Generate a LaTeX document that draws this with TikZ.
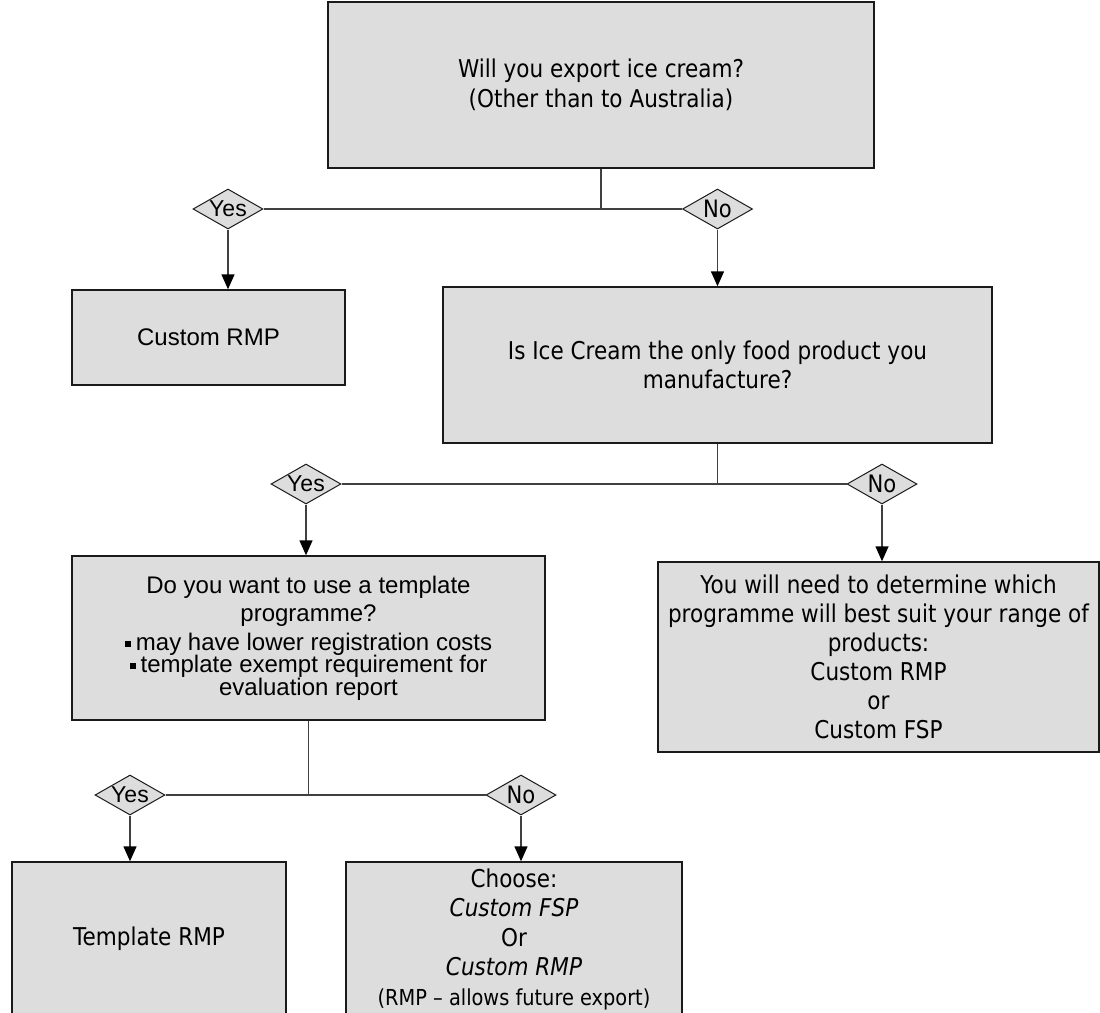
\documentclass[tikz,border=0pt]{standalone}
\usepackage{fontspec}
\setmainfont{Liberation Sans}
\newfontfamily\tah[FakeStretch=0.88]{DejaVu Sans}
\usetikzlibrary{shapes.geometric,arrows.meta}
\definecolor{boxfill}{HTML}{DDDDDD}
\definecolor{edgeclr}{HTML}{1A1A1A}
\definecolor{lineclr}{HTML}{404040}
\newcommand\bul{\rule[3pt]{6pt}{6pt}\hspace{5pt}}
\begin{document}
\begin{tikzpicture}[x=1pt,y=-1pt,
  box/.style={draw=edgeclr, line width=1.4pt, fill=boxfill, inner sep=0pt, align=center},
  tahtext/.style={font=\tah\fontsize{24.5}{29.5}\selectfont},
  aritext/.style={font=\fontsize{24}{28}\selectfont},
  dec/.style={diamond, draw=edgeclr, line width=1pt, fill=boxfill, inner sep=0pt,
              minimum width=70pt, minimum height=40pt, aspect=1.75},
  yestext/.style={font=\fontsize{23}{24}\selectfont},
  notext/.style={font=\tah\fontsize{24}{24}\selectfont},
  conn/.style={draw=lineclr, line width=1.4pt},
  arr/.style={conn, -{Triangle[length=15pt,width=13pt,color=black]}},
]
\useasboundingbox (0,0) rectangle (1100,1012);
\clip (0,0) rectangle (1100,1012);

% boxes
\node[box, tahtext, minimum width=546pt, minimum height=166pt] (q1) at (601,85)
  {Will you export ice cream?\\(Other than to Australia)};
\node[box, aritext, minimum width=273pt, minimum height=95pt] (crmp) at (208.5,337.5)
  {Custom RMP};
\node[box, tahtext, minimum width=549pt, minimum height=156pt] (q2) at (717.5,365)
  {Is Ice Cream the only food product you\\manufacture?};
\node[box, aritext, minimum width=473pt, minimum height=164pt] (q3) at (308.5,638)
  {Do you want to use a template\\programme?\\[1pt]\bul may have lower registration costs\\[-6pt]\bul template exempt requirement for\\[-5pt]evaluation report};
\node[box, tahtext, font=\tah\fontsize{24.5}{29}\selectfont, minimum width=441pt, minimum height=190pt] (q4) at (878.5,657)
  {You will need to determine which\\programme will best suit your range of\\products:\\Custom RMP\\or\\Custom FSP};
\node[box, tahtext, minimum width=274pt, minimum height=154pt] (tmpl) at (149,939)
  {Template RMP};
\node[box, tahtext, font=\tah\fontsize{24.5}{29.5}\selectfont, minimum width=336pt, minimum height=154pt] (choose) at (514,939)
  {Choose:\\\textit{Custom FSP}\\Or\\\textit{Custom RMP}\\{\fontsize{22}{29.5}\selectfont (RMP – allows future export)}};

% decisions
\node[dec, yestext] (yes1) at (228,209) {Yes};
\node[dec, notext]  (no1)  at (717.5,209) {No};
\node[dec, yestext] (yes2) at (306,484) {Yes};
\node[dec, notext]  (no2)  at (882,484) {No};
\node[dec, yestext] (yes3) at (130,795) {Yes};
\node[dec, notext]  (no3)  at (521,795) {No};

% junctions
\coordinate (j1) at (601,209);
\coordinate (j2) at (717.5,484);
\coordinate (j3) at (308.5,795);

% connectors
\draw[conn] (q1.south) -- (j1);
\draw[conn] (yes1.east) -- (j1) -- (no1.west);
\draw[arr] (yes1.south) -- (yes1.south |- crmp.north);
\draw[arr] (no1.south) -- (no1.south |- q2.north);

\draw[conn] (q2.south) -- (j2);
\draw[conn] (yes2.east) -- (j2) -- (no2.west);
\draw[arr] (yes2.south) -- (yes2.south |- q3.north);
\draw[arr] (no2.south) -- (no2.south |- q4.north);

\draw[conn] (q3.south) -- (j3);
\draw[conn] (yes3.east) -- (j3) -- (no3.west);
\draw[arr] (yes3.south) -- (yes3.south |- tmpl.north);
\draw[arr] (no3.south) -- (no3.south |- choose.north);
\end{tikzpicture}
\end{document}
